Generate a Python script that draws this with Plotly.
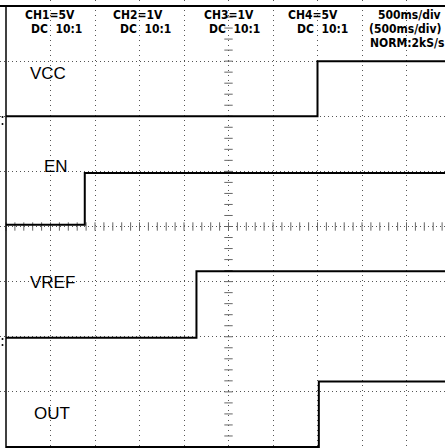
import plotly.graph_objects as go
import numpy as np

W, H = 445, 448
X0, Y0 = 6.0, 6.0          # pixel position of the screen's left / top edge
DX, DY = 44.5, 441.0 / 8   # pixels per division

# ---- data (in divisions: x = time div, y = vertical div from bottom) ----
channels = ["VCC", "EN", "VREF", "OUT"]
edge_div = [7.0, 1.77, 4.28, 7.03]
low_div = [6.0, 4.03, 1.98, 0.0]
high_div = [7.0, 4.97, 3.19, 1.19]

header_row1 = ["CH1=5V", "CH2=1V", "CH3=1V", "CH4=5V", "500ms/div"]
header_row2 = ["DC  10:1", "DC  10:1", "DC  10:1", "DC  10:1", "(500ms/div)"]
header_row3 = ["", "", "", "", "NORM:2kS/s"]

def px2x(p):
    return (p - X0) / DX

def px2y(p):
    return 8 - (p - Y0) / DY

fig = go.Figure()

# center graticule ticks
tick_y = np.round(np.arange(0, 8.01, 0.2), 3)
tick_x = np.round(np.arange(0, 10.01, 0.2), 3)
fig.add_trace(go.Scatter(x=[5] * len(tick_y), y=tick_y, mode="markers",
                         marker=dict(symbol="line-ew", size=6,
                                     line=dict(width=1, color="#666")),
                         hoverinfo="skip", showlegend=False))
fig.add_trace(go.Scatter(x=tick_x, y=[4] * len(tick_x), mode="markers",
                         marker=dict(symbol="line-ns", size=6,
                                     line=dict(width=1, color="#666")),
                         hoverinfo="skip", showlegend=False))

# signal traces
for name, e, lo, hi in zip(channels, edge_div, low_div, high_div):
    fig.add_trace(go.Scatter(x=[0, e, e, 10], y=[lo, lo, hi, hi], mode="lines",
                             line=dict(color="black", width=2),
                             name=name, showlegend=False, hoverinfo="skip"))

# frame
fig.add_shape(type="line", x0=px2x(0), x1=10.2, y0=8, y1=8,
              line=dict(color="black", width=2))
fig.add_shape(type="line", x0=0, x1=0, y0=-0.1, y1=8,
              line=dict(color="black", width=1.5))

# ground markers on the left
fig.add_trace(go.Scatter(x=[px2x(2.5)] * 4,
                         y=[px2y(117), px2y(124), px2y(339), px2y(345)],
                         mode="markers", marker=dict(size=2, color="black"),
                         hoverinfo="skip", showlegend=False))

fnt_hdr = dict(family="Liberation Sans Narrow, DejaVu Sans Condensed, Arial Narrow, sans-serif",
               size=12, color="black", weight="bold")
hdr_x = [50, 138, 229, 313, 409]
hdr_x2 = [56, 145, 235, 322, 405]
annotations = []
for i in range(5):
    annotations.append(dict(x=hdr_x[i] / W, y=1 - 15 / H, text=header_row1[i],
                            xref="paper", yref="paper", showarrow=False,
                            xanchor="center", yanchor="middle", font=fnt_hdr))
    annotations.append(dict(x=hdr_x2[i] / W, y=1 - 29 / H, text=header_row2[i],
                            xref="paper", yref="paper", showarrow=False,
                            xanchor="center", yanchor="middle", font=fnt_hdr))
    if header_row3[i]:
        annotations.append(dict(x=407 / W, y=1 - 43 / H, text=header_row3[i],
                                xref="paper", yref="paper", showarrow=False,
                                xanchor="center", yanchor="middle", font=fnt_hdr))

fnt_lbl = dict(family="Liberation Sans, Arial, sans-serif", size=17, color="black")
lbl_pos = [(48, 73), (56, 166), (52, 282), (52, 413)]
for name, (lx, ly) in zip(channels, lbl_pos):
    annotations.append(dict(x=lx / W, y=1 - ly / H, text=name, xref="paper",
                            yref="paper", showarrow=False, xanchor="center",
                            yanchor="middle", font=fnt_lbl))

fig.update_layout(
    width=W, height=H,
    margin=dict(l=0, r=0, t=0, b=0),
    paper_bgcolor="white", plot_bgcolor="white",
    annotations=annotations,
    xaxis=dict(range=[px2x(0), px2x(W)], tickvals=list(range(1, 10)),
               showgrid=True, griddash="1px,4px", gridcolor="#555", gridwidth=1,
               showticklabels=False, ticks="", zeroline=False, showline=False,
               fixedrange=True),
    yaxis=dict(range=[px2y(H), px2y(0)], tickvals=list(range(1, 8)),
               showgrid=True, griddash="1px,3px", gridcolor="#555", gridwidth=1,
               showticklabels=False, ticks="", zeroline=False, showline=False,
               fixedrange=True),
)

fig.write_html("out.html", config={"displayModeBar": False},
               post_script="document.body.style.margin='0';document.body.style.overflow='hidden';")
